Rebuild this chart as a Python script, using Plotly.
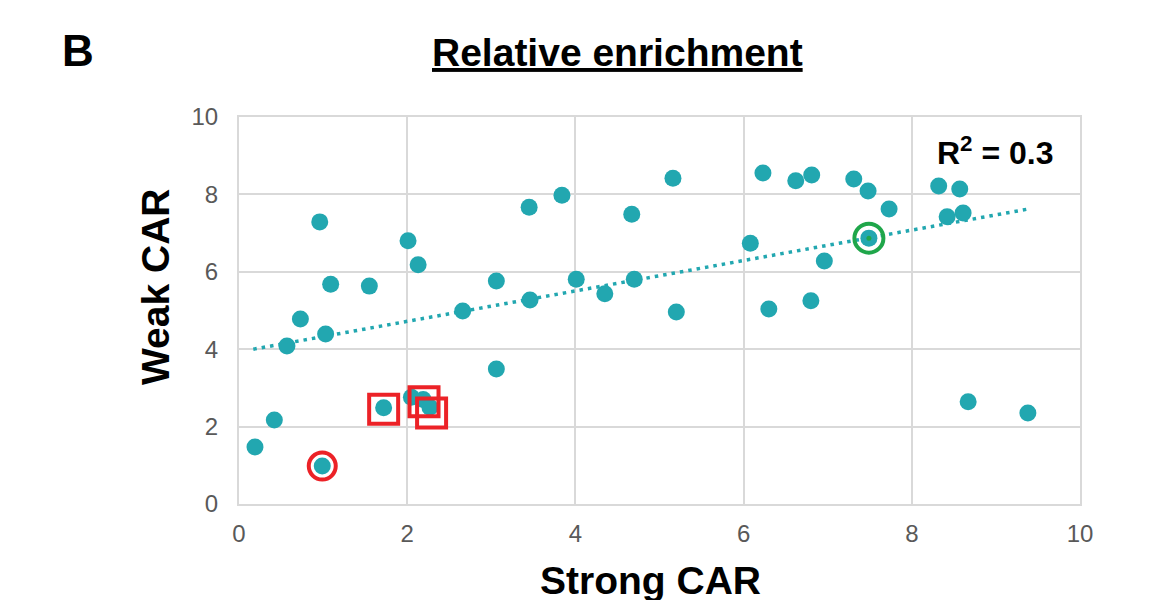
import plotly.graph_objects as go

# Data
strong_car = [0.19, 0.42, 0.99, 0.57, 0.73, 1.03, 0.96, 1.09, 1.55, 1.72,
              2.01, 2.13, 2.05, 2.19, 2.27, 2.66, 3.06, 3.06, 3.45, 3.46,
              3.84, 4.01, 4.35, 4.67, 4.70, 5.16, 5.20, 6.08, 6.23, 6.30,
              6.62, 6.81, 6.80, 6.96, 7.31, 7.48, 7.49, 7.73, 8.32, 8.57,
              8.42, 8.61, 8.67, 9.38]
weak_car = [1.47, 2.17, 0.98, 4.08, 4.78, 4.39, 7.29, 5.68, 5.63, 2.49,
            6.80, 6.18, 2.76, 2.70, 2.50, 4.99, 5.76, 3.49, 7.67, 5.27,
            7.98, 5.81, 5.43, 7.49, 5.81, 8.42, 4.96, 6.74, 8.55, 5.04,
            8.35, 8.50, 5.25, 6.28, 8.40, 8.09, 6.87, 7.62, 8.22, 8.14,
            7.42, 7.52, 2.64, 2.35]

trend_x = [0.17, 9.38]
trend_y = [4.00, 7.62]

red_circle_x = [0.99]
red_circle_y = [0.98]
red_square_x = [1.72, 2.20, 2.29]
red_square_y = [2.45, 2.64, 2.35]
green_circle_x = [7.49]
green_circle_y = [6.87]

x_ticks = [0, 2, 4, 6, 8, 10]
y_ticks = [0, 2, 4, 6, 8, 10]

TEAL = "#22A7B0"
RED = "#EC2227"
GREEN = "#1FA64A"
GRID = "#D9D9D9"
FONT = "Liberation Sans, Arial, sans-serif"

# screen-space plot box (page body has an 8px margin)
PL, PR, PT, PB = 239, 1080, 117, 504


def px(xs):
    return (xs - PL) / (PR - PL)


def py(ys):
    return (PB - ys) / (PB - PT)


fig = go.Figure()

fig.add_trace(go.Scatter(
    x=trend_x, y=trend_y, mode="lines",
    line=dict(color=TEAL, width=3.5, dash="3.5px,5px"),
    hoverinfo="skip", showlegend=False))

fig.add_trace(go.Scatter(
    x=strong_car, y=weak_car, mode="markers",
    marker=dict(color=TEAL, size=17, line=dict(width=0)),
    showlegend=False))

fig.add_trace(go.Scatter(
    x=red_circle_x, y=red_circle_y, mode="markers",
    marker=dict(symbol="circle-open", size=27, color=RED, line=dict(width=4, color=RED)),
    showlegend=False))

fig.add_trace(go.Scatter(
    x=red_square_x, y=red_square_y, mode="markers",
    marker=dict(symbol="square-open", size=29, color=RED, line=dict(width=4, color=RED)),
    showlegend=False))

fig.add_trace(go.Scatter(
    x=green_circle_x, y=green_circle_y, mode="markers",
    marker=dict(symbol="circle-open", size=29, color=GREEN, line=dict(width=4, color=GREEN)),
    showlegend=False))

fig.add_trace(go.Scatter(
    x=green_circle_x, y=green_circle_y, mode="markers",
    marker=dict(symbol="circle", size=5, color=GREEN),
    showlegend=False))

axis_common = dict(
    showgrid=True, gridcolor=GRID, gridwidth=2,
    showline=True, linecolor=GRID, linewidth=2, mirror=True,
    zeroline=False, ticks="",
    tickfont=dict(family=FONT, size=24, color="#595959"),
    fixedrange=True,
)

fig.update_xaxes(range=[0, 10], tickvals=x_ticks, ticklabelstandoff=7, **axis_common)
fig.update_yaxes(range=[0, 10], tickvals=y_ticks, ticklabelstandoff=14, **axis_common)

fig.update_layout(
    width=1174, height=600,
    margin=dict(l=PL - 8, r=1174 + 8 - PR, t=PT - 8, b=600 + 8 - PB),
    plot_bgcolor="white", paper_bgcolor="white",
    font=dict(family=FONT, color="black"),
    showlegend=False,
)

fig.add_annotation(text="<b><u>Relative enrichment</u></b>",
                   xref="paper", yref="paper", x=px(617), y=py(52),
                   xanchor="center", yanchor="middle", showarrow=False,
                   font=dict(family=FONT, size=39, color="black"))
fig.add_annotation(text="<b>B</b>",
                   xref="paper", yref="paper", x=px(78), y=py(50),
                   xanchor="center", yanchor="middle", showarrow=False,
                   font=dict(family=FONT, size=44, color="black"))
fig.add_annotation(text="<b>Strong CAR</b>",
                   xref="paper", yref="paper", x=px(650), y=py(580),
                   xanchor="center", yanchor="middle", showarrow=False,
                   font=dict(family=FONT, size=39, color="black"))
fig.add_annotation(text="<b>Weak CAR</b>",
                   xref="paper", yref="paper", x=px(155), y=py(287),
                   xanchor="center", yanchor="middle", showarrow=False, textangle=-90,
                   font=dict(family=FONT, size=39, color="black"))
fig.add_annotation(text="<b>R<sup>2</sup> = 0.3</b>",
                   xref="paper", yref="paper", x=px(995), y=py(151),
                   xanchor="center", yanchor="middle", showarrow=False,
                   font=dict(family=FONT, size=32, color="black"))

fig.write_html("out.html")
